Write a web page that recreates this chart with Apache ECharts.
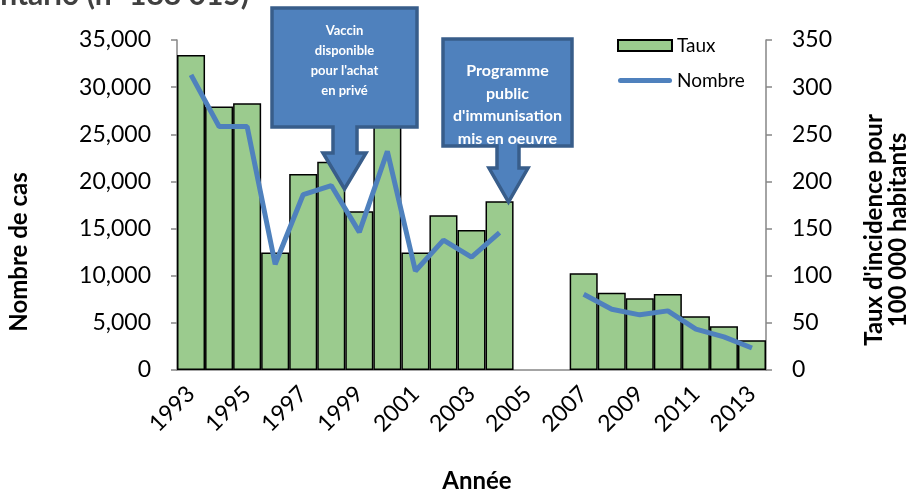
<!DOCTYPE html>
<html><head><meta charset="utf-8">
<script src="https://cdn.jsdelivr.net/npm/echarts@6/dist/echarts.min.js"></script>
<style>html,body{margin:0;padding:0;background:#fff}#c{width:917px;height:491px}</style>
</head><body><div id="c"></div>
<script>
const years = ['1993','1994','1995','1996','1997','1998','1999','2000','2001','2002','2003','2004','2005','2006','2007','2008','2009','2010','2011','2012','2013'];
const taux = [334, 279.5, 283, 124.5, 208, 221, 168.5, 268, 124.5, 164, 148.5, 179, null, null, 102.5, 82, 76, 80.5, 57, 46.5, 31.5];
const nombre = [31300, 25830, 25830, 11210, 18610, 19560, 14620, 23190, 10500, 13780, 11980, 14560, null, null, 8040, 6450, 5850, 6270, 4340, 3520, 2330];
const leftTicks = [0, 35000, 5000];
const rightTicks = [0, 350, 50];

const FONT = 'Lato, "Open Sans", sans-serif';
const AX = '#868686';
const chart = echarts.init(document.getElementById('c'), null, {renderer: 'canvas'});

function callout(pts, lines, fs, lh, cx, y0) {
  return [
    {type: 'polygon', z: 100, shape: {points: pts},
     style: {fill: '#4F81BD', stroke: '#385D8A', lineWidth: 3.5}},
    {type: 'text', z: 101, x: cx, y: y0,
     style: {text: lines.join('\n'), fill: '#fff', font: 'bold ' + fs + 'px ' + FONT,
             textAlign: 'center', textVerticalAlign: 'top', lineHeight: lh}}
  ];
}
function title(text, x, y) {
  return {type: 'text', z: 50, x: x, y: y, rotation: Math.PI / 2,
          style: {text: text, font: 'bold 24px ' + FONT, fill: '#000',
                  textAlign: 'center', textVerticalAlign: 'middle', lineHeight: 24}};
}

chart.setOption({
  animation: false,
  textStyle: {fontFamily: FONT},
  grid: {left: 177, right: 151, top: 40, bottom: 121, containLabel: false, outerBoundsMode: 'none'},
  legend: {
    orient: 'vertical', left: 612, top: 31, itemWidth: 54, itemHeight: 11, itemGap: 16,
    textStyle: {fontSize: 19, color: '#000', fontFamily: FONT},
    data: [{name: 'Taux', icon: 'rect'},
           {name: 'Nombre', icon: 'path://M2.5,0L51.5,0A2.5,2.5,0,0,1,51.5,5L2.5,5A2.5,2.5,0,0,1,2.5,0Z',
            itemStyle: {color: '#4F81BD', borderWidth: 0}}]
  },
  xAxis: {
    type: 'category', data: years, boundaryGap: true,
    axisLine: {lineStyle: {color: AX, width: 1.5}},
    axisTick: {interval: 0, length: 8, lineStyle: {color: AX, width: 1.5}},
    axisLabel: {interval: 1, rotate: 45, fontSize: 23, color: '#000', margin: 20, fontFamily: FONT}
  },
  yAxis: [
    {type: 'value', min: leftTicks[0], max: leftTicks[1], interval: leftTicks[2],
     axisLine: {show: true, lineStyle: {color: AX, width: 1.5}},
     axisTick: {show: true, length: 6, lineStyle: {color: AX, width: 1.5}},
     splitLine: {show: false},
     axisLabel: {fontSize: 23, color: '#000', margin: 26, fontFamily: FONT,
                 formatter: v => v.toLocaleString('en-US')}},
    {type: 'value', min: rightTicks[0], max: rightTicks[1], interval: rightTicks[2], position: 'right',
     axisLine: {show: true, lineStyle: {color: AX, width: 1.5}},
     axisTick: {show: true, length: 6, lineStyle: {color: AX, width: 1.5}},
     splitLine: {show: false},
     axisLabel: {fontSize: 23, color: '#000', margin: 26, fontFamily: FONT}}
  ],
  series: [
    {name: 'Taux', type: 'bar', yAxisIndex: 1, data: taux, barCategoryGap: '0%', barGap: '0%',
     itemStyle: {color: '#9BCB8E', borderColor: '#000', borderWidth: 1.5}, z: 2},
    {name: 'Nombre', type: 'line', yAxisIndex: 0, data: nombre, showSymbol: false, symbol: 'none',
     connectNulls: false, lineStyle: {color: '#4F81BD', width: 5}, itemStyle: {color: '#4F81BD'}, z: 3}
  ],
  graphic: [
    {type: 'text', x: 249, y: 10, z: 50,
     style: {text: 'Ontario (n=188 015)', font: 'bold 30px ' + FONT, fill: '#404040',
             textAlign: 'right', textVerticalAlign: 'bottom'}},
    title('Nombre de cas', 19, 252),
    title("Taux d'incidence pour\n100 000 habitants", 886, 230),
    {type: 'text', z: 50, x: 477, y: 481,
     style: {text: 'Année', font: 'bold 24px ' + FONT, fill: '#000', textAlign: 'center', textVerticalAlign: 'middle'}},
    ...callout([[272,8],[417,8],[417,127],[357,127],[357,153],[366,153],[344.5,189],[323,153],[333,153],[333,127],[272,127]],
               ['Vaccin', 'disponible', "pour l'achat", 'en privé'], 13, 20, 344.5, 21),
    ...callout([[443,39],[572,39],[572,146],[519,146],[519,168],[528,168],[508.5,202],[489,168],[497,168],[497,146],[443,146]],
               ['Programme', 'public', "d'immunisation", 'mis en oeuvre'], 16, 22.5, 507.5, 60)
  ]
});
</script></body></html>
